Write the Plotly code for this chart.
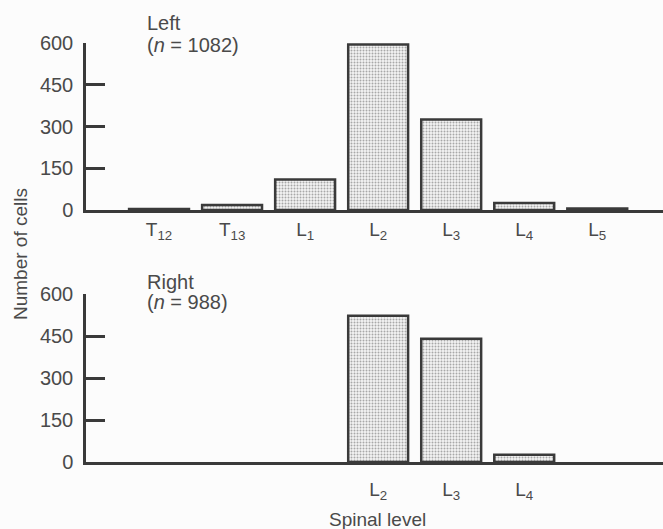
import plotly.graph_objects as go

levels = ["T12", "T13", "L1", "L2", "L3", "L4", "L5"]
level_labels = ["T<sub>12</sub>", "T<sub>13</sub>", "L<sub>1</sub>", "L<sub>2</sub>",
                "L<sub>3</sub>", "L<sub>4</sub>", "L<sub>5</sub>"]
left_counts = [4, 18, 110, 595, 325, 25, 5]
right_levels = ["L2", "L3", "L4"]
right_labels = ["L<sub>2</sub>", "L<sub>3</sub>", "L<sub>4</sub>"]
right_counts = [522, 440, 26]
y_ticks = [0, 150, 300, 450, 600]

W, H = 663, 529
ink = "#3a3a3a"
txt = "#4a4a4a"
font = "Liberation Sans, Arial, sans-serif"

def bar(x, y, xa, ya):
    return go.Bar(
        x=x, y=y, xaxis=xa, yaxis=ya, width=0.82,
        marker=dict(color="#ffffff",
                    line=dict(color=ink, width=2.5),
                    pattern=dict(shape=".", fgcolor="#a8a8a8", bgcolor="#f4f4f4",
                                 size=3, solidity=0.35)),
        showlegend=False, hoverinfo="x+y")

fig = go.Figure()
fig.add_trace(bar(levels, left_counts, "x", "y"))
fig.add_trace(bar(right_levels, right_counts, "x2", "y2"))

def px_x(p):
    return p / W

def px_y(p):
    return (H - p) / H

xcommon = dict(type="category", categoryorder="array", categoryarray=levels,
               range=[-1, 6.9], showline=True, linecolor=ink, linewidth=2.5,
               ticks="", showgrid=False, zeroline=False, fixedrange=True,
               automargin=False,
               tickfont=dict(family=font, size=19, color=txt),
               domain=[px_x(86), 1.0])
ycommon = dict(range=[0, 600], tickvals=y_ticks, ticks="inside", ticklen=19,
               tickwidth=2.5, tickcolor=ink, showline=True, linecolor=ink,
               linewidth=2.5, showgrid=False, zeroline=False, automargin=False,
               fixedrange=True,
               tickfont=dict(family=font, size=20, color=txt),
               ticklabelstandoff=6)

fig.update_layout(
    template="none",
    width=W, height=H,
    margin=dict(l=0, r=0, t=0, b=0),
    paper_bgcolor="#fcfcfc", plot_bgcolor="#fcfcfc",
    xaxis=dict(xcommon, anchor="y", tickvals=levels, ticktext=level_labels,
               ticklabelstandoff=0),
    yaxis=dict(ycommon, anchor="x", domain=[px_y(210), px_y(43)]),
    xaxis2=dict(xcommon, anchor="y2", tickvals=right_levels, ticktext=right_labels,
                ticklabelstandoff=8),
    yaxis2=dict(ycommon, anchor="x2", domain=[px_y(462), px_y(294)]),
)

ann_font = dict(family=font, size=20, color=txt)
annots = [
    ("Left", 145, 23),
    ("(<i>n</i> = 1082)", 145, 45),
    ("Right", 145, 282),
    ("(<i>n</i> = 988)", 145, 302),
]
for t, x, y in annots:
    fig.add_annotation(text=t, x=px_x(x), y=px_y(y), xref="paper", yref="paper",
                       xanchor="left", yanchor="middle", showarrow=False, font=ann_font)

fig.add_annotation(text="Number of cells", x=px_x(20), y=px_y(254), xref="paper",
                   yref="paper", textangle=-90, showarrow=False,
                   xanchor="center", yanchor="middle",
                   font=dict(family=font, size=19, color=txt))
fig.add_annotation(text="Spinal level", x=px_x(377), y=px_y(519), xref="paper",
                   yref="paper", showarrow=False, xanchor="center", yanchor="middle",
                   font=dict(family=font, size=19, color=txt))

fig.write_html("out.html", config={"displayModeBar": False},
               post_script="document.body.style.margin='0';document.body.style.overflow='hidden';")
